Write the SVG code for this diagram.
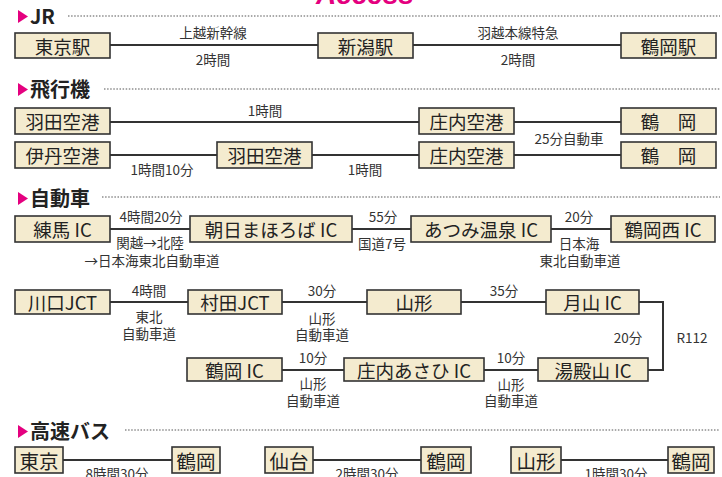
<svg xmlns="http://www.w3.org/2000/svg" width="722" height="477" viewBox="0 0 722 477">
<style>
.bx{fill:#f4ebcf;stroke:#333;stroke-width:1.6}
.bt{font-family:"Noto Sans CJK JP","Noto Sans",sans-serif;font-size:18.5px;fill:#222;text-anchor:middle;dominant-baseline:central}
.lb{font-family:"Noto Sans CJK JP","Noto Sans",sans-serif;font-size:13.5px;fill:#333;text-anchor:middle;dominant-baseline:central}
.hd{font-family:"Noto Sans CJK JP","Noto Sans",sans-serif;font-size:20px;font-weight:bold;fill:#222}
.tri{fill:#e4007f}
.dot{stroke:#555;stroke-width:1.2;stroke-dasharray:1.5 1.6;fill:none}
.ln{stroke:#333;stroke-width:2;fill:none}
</style>
<rect width="722" height="477" fill="#fff"/>
<text x="365" y="4" font-family="Liberation Sans,sans-serif" font-size="28" font-weight="bold" font-style="italic" fill="#e4007f" text-anchor="middle">Access</text>

<g id="headers">
<polygon class="tri" points="18,10 28,16.5 18,23"/><text class="hd" x="30" y="24">JR</text>
<line class="dot" x1="68" y1="16" x2="720" y2="16"/>
<polygon class="tri" points="18,83 28,89.5 18,96"/><text class="hd" x="30" y="97">飛行機</text>
<line class="dot" x1="104" y1="89" x2="720" y2="89"/>
<polygon class="tri" points="18,192 28,198.5 18,205"/><text class="hd" x="30" y="206">自動車</text>
<line class="dot" x1="102" y1="197" x2="720" y2="197"/>
<polygon class="tri" points="18,425 28,431.5 18,438"/><text class="hd" x="30" y="439">高速バス</text>
<line class="dot" x1="125" y1="430" x2="720" y2="430"/>
</g>

<g id="connectors">
<line class="ln" x1="110" y1="45" x2="318" y2="45"/>
<line class="ln" x1="413" y1="45" x2="621" y2="45"/>
<line class="ln" x1="110" y1="122" x2="419" y2="122"/>
<line class="ln" x1="514" y1="122" x2="621" y2="122"/>
<line class="ln" x1="110" y1="155" x2="217" y2="155"/>
<line class="ln" x1="312" y1="155" x2="419" y2="155"/>
<line class="ln" x1="514" y1="155" x2="621" y2="155"/>
<line class="ln" x1="110" y1="229" x2="190" y2="229"/>
<line class="ln" x1="352" y1="229" x2="411" y2="229"/>
<line class="ln" x1="551" y1="229" x2="611" y2="229"/>
<line class="ln" x1="110" y1="302" x2="188" y2="302"/>
<line class="ln" x1="282" y1="302" x2="367" y2="302"/>
<line class="ln" x1="461" y1="302" x2="546" y2="302"/>
<polyline class="ln" points="639,302 663,302 663,370 648,370"/>
<line class="ln" x1="282" y1="370" x2="344" y2="370"/>
<line class="ln" x1="484" y1="370" x2="538" y2="370"/>
<line class="ln" x1="63" y1="460" x2="172" y2="460"/>
<line class="ln" x1="313" y1="460" x2="421" y2="460"/>
<line class="ln" x1="561" y1="460" x2="668" y2="460"/>
</g>

<g id="labels">
<text class="lb" x="213" y="32">上越新幹線</text>
<text class="lb" x="213" y="59">2時間</text>
<text class="lb" x="518" y="32">羽越本線特急</text>
<text class="lb" x="518" y="59">2時間</text>
<text class="lb" x="265" y="110">1時間</text>
<text class="lb" x="162" y="169">1時間10分</text>
<text class="lb" x="365" y="169">1時間</text>
<text class="lb" x="569" y="138">25分自動車</text>
<text class="lb" x="151" y="216">4時間20分</text>
<text class="lb" x="150" y="242">関越→北陸</text>
<text class="lb" x="152" y="260">→日本海東北自動車道</text>
<text class="lb" x="383" y="216">55分</text>
<text class="lb" x="382" y="243">国道7号</text>
<text class="lb" x="579" y="216">20分</text>
<text class="lb" x="579" y="243">日本海</text>
<text class="lb" x="580" y="260">東北自動車道</text>
<text class="lb" x="149" y="290">4時間</text>
<text class="lb" x="149" y="316">東北</text>
<text class="lb" x="149" y="333">自動車道</text>
<text class="lb" x="322" y="290">30分</text>
<text class="lb" x="322" y="318">山形</text>
<text class="lb" x="322" y="334">自動車道</text>
<text class="lb" x="504" y="290">35分</text>
<text class="lb" x="628" y="337">20分</text>
<text class="lb" x="692" y="337">R112</text>
<text class="lb" x="313" y="357">10分</text>
<text class="lb" x="313" y="383">山形</text>
<text class="lb" x="313" y="400">自動車道</text>
<text class="lb" x="511" y="357">10分</text>
<text class="lb" x="511" y="384">山形</text>
<text class="lb" x="511" y="400">自動車道</text>
<text class="lb" x="117" y="473">8時間30分</text>
<text class="lb" x="367" y="473">2時間30分</text>
<text class="lb" x="616" y="473">1時間30分</text>
</g>

<g id="n-tokyo-st"><rect class="bx" x="15" y="33" width="95" height="25"/><text class="bt" x="62.5" y="45.5">東京駅</text></g>
<g id="n-niigata-st"><rect class="bx" x="318" y="33" width="95" height="25"/><text class="bt" x="365.5" y="45.5">新潟駅</text></g>
<g id="n-tsuruoka-st"><rect class="bx" x="621" y="33" width="95" height="25"/><text class="bt" x="668.5" y="45.5">鶴岡駅</text></g>

<g id="n-haneda1"><rect class="bx" x="15" y="108" width="95" height="26"/><text class="bt" x="62.5" y="121">羽田空港</text></g>
<g id="n-shonai1"><rect class="bx" x="419" y="108" width="95" height="26"/><text class="bt" x="466.5" y="121">庄内空港</text></g>
<g id="n-tsuruoka1"><rect class="bx" x="621" y="108" width="95" height="26"/><text class="bt" x="668.5" y="121">鶴　岡</text></g>
<g id="n-itami"><rect class="bx" x="15" y="142" width="95" height="26"/><text class="bt" x="62.5" y="155">伊丹空港</text></g>
<g id="n-haneda2"><rect class="bx" x="217" y="142" width="95" height="26"/><text class="bt" x="264.5" y="155">羽田空港</text></g>
<g id="n-shonai2"><rect class="bx" x="419" y="142" width="95" height="26"/><text class="bt" x="466.5" y="155">庄内空港</text></g>
<g id="n-tsuruoka2"><rect class="bx" x="621" y="142" width="95" height="26"/><text class="bt" x="668.5" y="155">鶴　岡</text></g>

<g id="n-nerima"><rect class="bx" x="15" y="216" width="95" height="26"/><text class="bt" x="62.5" y="229">練馬 IC</text></g>
<g id="n-asahi"><rect class="bx" x="190" y="216" width="162" height="26"/><text class="bt" x="271" y="229">朝日まほろば IC</text></g>
<g id="n-atsumi"><rect class="bx" x="411" y="216" width="140" height="26"/><text class="bt" x="481" y="229">あつみ温泉 IC</text></g>
<g id="n-tsuruokanishi"><rect class="bx" x="611" y="216" width="104" height="26"/><text class="bt" x="663" y="229">鶴岡西 IC</text></g>

<g id="n-kawaguchi"><rect class="bx" x="15" y="290" width="95" height="24"/><text class="bt" x="62.5" y="302">川口JCT</text></g>
<g id="n-murata"><rect class="bx" x="188" y="290" width="94" height="24"/><text class="bt" x="235" y="302">村田JCT</text></g>
<g id="n-yamagata"><rect class="bx" x="367" y="290" width="94" height="24"/><text class="bt" x="414" y="302">山形</text></g>
<g id="n-gassan"><rect class="bx" x="546" y="290" width="93" height="24"/><text class="bt" x="592.5" y="302">月山 IC</text></g>
<g id="n-tsuruoka-ic"><rect class="bx" x="187" y="358" width="95" height="23"/><text class="bt" x="234.5" y="369.5">鶴岡 IC</text></g>
<g id="n-shonaiasahi"><rect class="bx" x="344" y="358" width="140" height="23"/><text class="bt" x="414" y="369.5">庄内あさひ IC</text></g>
<g id="n-yudonosan"><rect class="bx" x="538" y="358" width="110" height="23"/><text class="bt" x="593" y="369.5">湯殿山 IC</text></g>

<g id="n-bus-tokyo"><rect class="bx" x="15" y="447" width="48" height="26"/><text class="bt" x="39" y="460" style="font-size:19.5px">東京</text></g>
<g id="n-bus-tsuruoka1"><rect class="bx" x="172" y="447" width="48" height="26"/><text class="bt" x="196" y="460" style="font-size:19.5px">鶴岡</text></g>
<g id="n-bus-sendai"><rect class="bx" x="265" y="447" width="48" height="26"/><text class="bt" x="289" y="460" style="font-size:19.5px">仙台</text></g>
<g id="n-bus-tsuruoka2"><rect class="bx" x="421" y="447" width="50" height="26"/><text class="bt" x="446" y="460" style="font-size:19.5px">鶴岡</text></g>
<g id="n-bus-yamagata"><rect class="bx" x="511" y="447" width="50" height="26"/><text class="bt" x="536" y="460" style="font-size:19.5px">山形</text></g>
<g id="n-bus-tsuruoka3"><rect class="bx" x="668" y="447" width="46" height="26"/><text class="bt" x="691" y="460" style="font-size:19.5px">鶴岡</text></g>
</svg>
